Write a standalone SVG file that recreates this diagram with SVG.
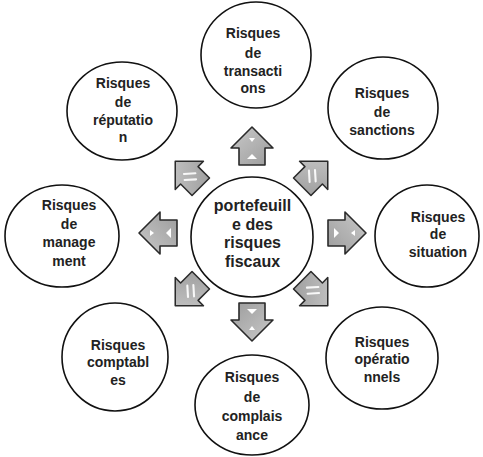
<svg xmlns="http://www.w3.org/2000/svg" width="483" height="457" viewBox="0 0 483 457">
<style>
.c{fill:#fff;stroke:#111;stroke-width:1.6}
.t{font-family:"Liberation Sans",Arial,sans-serif;font-weight:bold;font-size:14px;fill:#222;text-anchor:middle}
.tc{font-size:16px}
.a{fill:url(#g);stroke:#2a2a2a;stroke-width:1.6;stroke-linejoin:round}
.h{fill:none;stroke:#fff;stroke-width:2.2;stroke-linecap:round;opacity:0.9}
.w{fill:#fff}
</style>
<defs>
<linearGradient id="g" x1="0" y1="0" x2="1" y2="1">
<stop offset="0" stop-color="#c9c9c9"/>
<stop offset="1" stop-color="#9c9c9c"/>
</linearGradient>
</defs>
<g id="connectors">
<g transform="translate(252,146)"><path class="a" d="M0,-19 L21,2 L13,2 L13,19 L-13,19 L-13,2 L-21,2 Z"/><path class="w" d="M-3,-8 L3,-8 L0,-4 Z"/><path class="w" d="M-5,13 L5,13 L0,8 Z"/></g>
<g transform="translate(252,322) rotate(180)"><path class="a" d="M0,-19 L21,2 L13,2 L13,19 L-13,19 L-13,2 L-21,2 Z"/><path class="w" d="M-3,-8 L3,-8 L0,-4 Z"/><path class="w" d="M-5,13 L5,13 L0,8 Z"/></g>
<g transform="translate(158,233) rotate(-90)"><path class="a" d="M0,-19 L21,2 L13,2 L13,19 L-13,19 L-13,2 L-21,2 Z"/><path class="w" d="M-3,-8 L3,-8 L0,-4 Z"/><path class="w" d="M-5,13 L5,13 L0,8 Z"/></g>
<g transform="translate(347,233) rotate(90)"><path class="a" d="M0,-19 L21,2 L13,2 L13,19 L-13,19 L-13,2 L-21,2 Z"/><path class="w" d="M-3,-8 L3,-8 L0,-4 Z"/><path class="w" d="M-5,13 L5,13 L0,8 Z"/></g>
<g transform="translate(188,174) rotate(-45) scale(0.95)"><path class="a" d="M0,-19 L21,2 L13,2 L13,19 L-13,19 L-13,2 L-21,2 Z"/><path class="h" d="M-7,2 L2,10"/><path class="h" d="M-3,-3 L6,5"/></g>
<g transform="translate(315,174) rotate(45) scale(0.95)"><path class="a" d="M0,-19 L21,2 L13,2 L13,19 L-13,19 L-13,2 L-21,2 Z"/><path class="h" d="M-7,2 L2,10"/><path class="h" d="M-3,-3 L6,5"/></g>
<g transform="translate(188,293) rotate(-135) scale(0.95)"><path class="a" d="M0,-19 L21,2 L13,2 L13,19 L-13,19 L-13,2 L-21,2 Z"/><path class="h" d="M-7,2 L2,10"/><path class="h" d="M-3,-3 L6,5"/></g>
<g transform="translate(315,293) rotate(135) scale(0.95)"><path class="a" d="M0,-19 L21,2 L13,2 L13,19 L-13,19 L-13,2 L-21,2 Z"/><path class="h" d="M-7,2 L2,10"/><path class="h" d="M-3,-3 L6,5"/></g>
</g>
<g id="center">
<ellipse class="c" cx="252" cy="237" rx="61" ry="60"/>
<text class="t tc"><tspan x="252.5" y="211">portefeuill</tspan><tspan x="252.5" y="230">e des</tspan><tspan x="252.5" y="248">risques</tspan><tspan x="252.5" y="267">fiscaux</tspan></text>
</g>
<g id="transactions">
<ellipse class="c" cx="256" cy="55" rx="55" ry="53"/>
<text class="t"><tspan x="253" y="38">Risques</tspan><tspan x="253" y="58">de</tspan><tspan x="253" y="76">transacti</tspan><tspan x="253" y="93">ons</tspan></text>
</g>
<g id="reputation">
<ellipse class="c" cx="122" cy="111" rx="55" ry="49"/>
<text class="t"><tspan x="123" y="88">Risques</tspan><tspan x="123" y="107">de</tspan><tspan x="123" y="125">réputatio</tspan><tspan x="123" y="142">n</tspan></text>
</g>
<g id="sanctions">
<ellipse class="c" cx="383" cy="108" rx="55" ry="51"/>
<text class="t"><tspan x="382" y="98">Risques</tspan><tspan x="382" y="117">de</tspan><tspan x="382" y="135">sanctions</tspan></text>
</g>
<g id="management">
<ellipse class="c" cx="62" cy="236" rx="57" ry="51"/>
<text class="t"><tspan x="69" y="210">Risques</tspan><tspan x="69" y="229">de</tspan><tspan x="69" y="247">manage</tspan><tspan x="69" y="266">ment</tspan></text>
</g>
<g id="situation">
<ellipse class="c" cx="427" cy="236" rx="52" ry="51"/>
<text class="t"><tspan x="438" y="222">Risques</tspan><tspan x="438" y="239">de</tspan><tspan x="438" y="257">situation</tspan></text>
</g>
<g id="comptables">
<ellipse class="c" cx="115" cy="357" rx="53" ry="54"/>
<text class="t"><tspan x="118" y="350">Risques</tspan><tspan x="118" y="367">comptabl</tspan><tspan x="118" y="385">es</tspan></text>
</g>
<g id="operationnels">
<ellipse class="c" cx="382" cy="358" rx="56" ry="51"/>
<text class="t"><tspan x="382" y="347">Risques</tspan><tspan x="382" y="364">opératio</tspan><tspan x="382" y="382">nnels</tspan></text>
</g>
<g id="complaisance">
<ellipse class="c" cx="252" cy="405" rx="57" ry="50"/>
<text class="t"><tspan x="252" y="382">Risques</tspan><tspan x="252" y="402">de</tspan><tspan x="252" y="421">complais</tspan><tspan x="252" y="440">ance</tspan></text>
</g>
</svg>
